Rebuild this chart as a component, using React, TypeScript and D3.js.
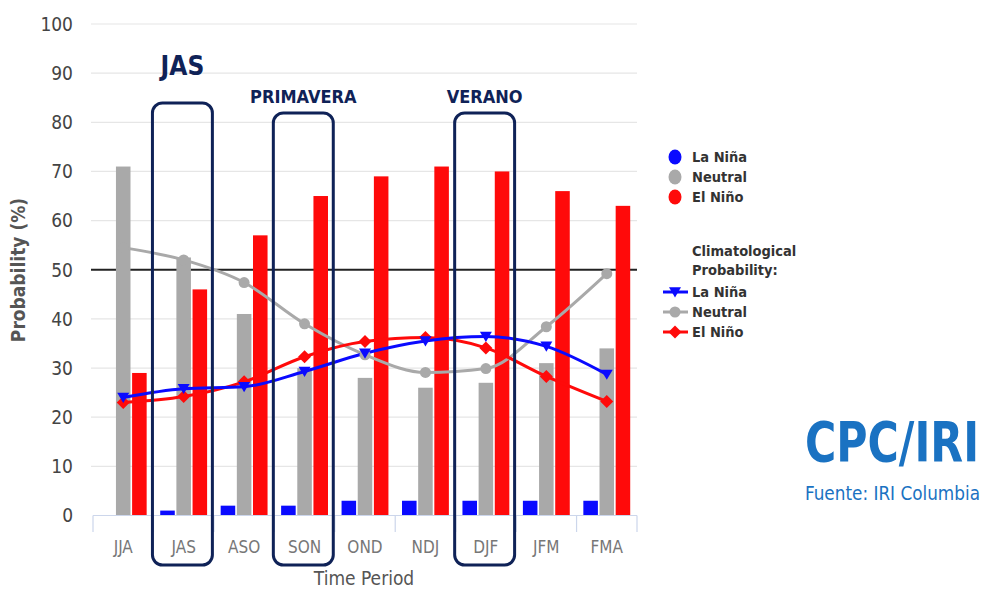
import React from "react";
import * as d3 from "d3";

const categories = ["JJA", "JAS", "ASO", "SON", "OND", "NDJ", "DJF", "JFM", "FMA"];
const laNina = [0, 1, 2, 2, 3, 3, 3, 3, 3];
const neutral = [71, 52.5, 41, 30, 28, 26, 27, 31, 34];
const elNino = [29, 46, 57, 65, 69, 71, 70, 66, 63];
const climLaNina = [24, 25.8, 26.2, 29.3, 33, 35.5, 36.4, 34.4, 28.7];
const climNeutral = [54.5, 52, 47.4, 39, 32.7, 29.1, 29.9, 38.4, 49.2];
const climElNino = [23, 24.2, 27.2, 32.3, 35.4, 36.2, 34.1, 28.3, 23.2];
const yTicks = [0, 10, 20, 30, 40, 50, 60, 70, 80, 90, 100];
const seriesNames = ["La Niña", "Neutral", "El Niño"];
const highlights = [
  { cat: "JAS", label: "JAS", big: true },
  { cat: "SON", label: "PRIMAVERA", big: false },
  { cat: "DJF", label: "VERANO", big: false },
];

const FONT = "'DejaVu Sans Condensed', 'Liberation Sans Narrow', 'DejaVu Sans', sans-serif";
const BLUE = "#0a0aff";
const GRAY = "#a9a9a9";
const RED = "#ff0a0a";
const NAVY = "#0f2257";
const LOGO = "#1a72c2";

const W = 985;
const H = 589;

export default function App() {
  const x = d3.scaleBand<string>().domain(categories).range([93, 637]);
  const sub = d3
    .scaleBand<string>()
    .domain(["lanina", "neutral", "elnino"])
    .range([0, x.bandwidth()])
    .paddingInner(0.1)
    .paddingOuter(0.42);
  const y = d3.scaleLinear().domain([0, 100]).range([515.5, 24]);
  const cx = (c: string) => (x(c) as number) + x.bandwidth() / 2;

  const line = d3
    .line<number>()
    .x((_, i) => cx(categories[i]))
    .y((d) => y(d))
    .curve(d3.curveMonotoneX);

  const barSeries = [
    { key: "lanina", vals: laNina, color: BLUE },
    { key: "neutral", vals: neutral, color: GRAY },
    { key: "elnino", vals: elNino, color: RED },
  ];

  const tri = (px: number, py: number, s = 6) =>
    `M${px - s},${py - s * 0.8}L${px + s},${py - s * 0.8}L${px},${py + s * 0.9}Z`;
  const dia = (px: number, py: number, s = 6.5) =>
    `M${px},${py - s}L${px + s},${py}L${px},${py + s}L${px - s},${py}Z`;

  const boundaries = categories.map((c) => x(c) as number).concat([637]);

  return (
    <svg
      width={W}
      height={H}
      style={{ position: "absolute", left: 0, top: 0, background: "#fff" }}
      fontFamily={FONT}
    >
      {/* gridlines */}
      {yTicks
        .filter((t) => t !== 0 && t !== 50)
        .map((t) => (
          <line key={t} x1={91} x2={637} y1={y(t)} y2={y(t)} stroke="#e6e6e6" strokeWidth={1.2} />
        ))}
      <line x1={91} x2={637} y1={y(50)} y2={y(50)} stroke="#222" strokeWidth={1.8} />

      {/* y labels */}
      {yTicks.map((t) => (
        <text key={t} x={73} y={y(t)} dy="0.36em" textAnchor="end" fontSize={19} fill="#444">
          {t}
        </text>
      ))}
      <text
        transform={`translate(25,270) rotate(-90)`}
        textAnchor="middle"
        fontSize={19}
        fontWeight="bold"
        fill="#555"
      >
        Probability (%)
      </text>

      {/* bars */}
      {barSeries.map((s) =>
        s.vals.map((v, i) => {
          const c = categories[i];
          const bx = (x(c) as number) + (sub(s.key) as number);
          return (
            <rect
              key={s.key + c}
              x={bx}
              y={y(v)}
              width={sub.bandwidth()}
              height={y(0) - y(v)}
              fill={s.color}
            />
          );
        })
      )}

      {/* x axis */}
      <line x1={93} x2={637} y1={515.5} y2={515.5} stroke="#ccd6eb" strokeWidth={1.2} />
      {boundaries.map((b, i) => (
        <line key={i} x1={b} x2={b} y1={515.5} y2={532} stroke="#ccd6eb" strokeWidth={1.2} />
      ))}
      {categories.map((c) => (
        <text key={c} x={cx(c)} y={547} dy="0.36em" textAnchor="middle" fontSize={17} fill="#777">
          {c}
        </text>
      ))}
      <text x={364} y={578} dy="0.36em" textAnchor="middle" fontSize={19} fill="#555">
        Time Period
      </text>

      {/* climatological lines */}
      <path d={line(climNeutral) || ""} fill="none" stroke={GRAY} strokeWidth={3} />
      <path d={line(climElNino) || ""} fill="none" stroke={RED} strokeWidth={3} />
      <path d={line(climLaNina) || ""} fill="none" stroke={BLUE} strokeWidth={3} />
      {climNeutral.map((v, i) => (
        <circle key={"n" + i} cx={cx(categories[i])} cy={y(v)} r={5.5} fill={GRAY} />
      ))}
      {climElNino.map((v, i) => (
        <path key={"e" + i} d={dia(cx(categories[i]), y(v))} fill={RED} />
      ))}
      {climLaNina.map((v, i) => (
        <path key={"l" + i} d={tri(cx(categories[i]), y(v))} fill={BLUE} />
      ))}

      {/* highlight boxes */}
      {highlights.map((h) => {
        const left = (x(h.cat) as number) - 1;
        const right = left + x.bandwidth() - 0.5;
        const top = h.big ? 103 : 113;
        return (
          <g key={h.cat}>
            <rect
              x={left}
              y={top}
              width={right - left}
              height={565 - top}
              rx={10}
              fill="none"
              stroke={NAVY}
              strokeWidth={3}
            />
            <text
              x={(left + right) / 2}
              y={h.big ? 75 : 103}
              textAnchor="middle"
              fontSize={h.big ? 26 : 18}
              fontWeight="bold"
              fill={NAVY}
            >
              {h.label}
            </text>
          </g>
        );
      })}

      {/* legend */}
      {[BLUE, GRAY, RED].map((col, i) => (
        <g key={"lg" + i}>
          <ellipse cx={675} cy={157 + i * 20} rx={6.5} ry={7.5} fill={col} />
          <text x={692} y={157 + i * 20} dy="0.36em" fontSize={14.5} fontWeight="bold" fill="#333">
            {seriesNames[i]}
          </text>
        </g>
      ))}
      <text x={692} y={251} dy="0.36em" fontSize={14.5} fontWeight="bold" fill="#333">
        Climatological
      </text>
      <text x={692} y={270} dy="0.36em" fontSize={14.5} fontWeight="bold" fill="#333">
        Probability:
      </text>
      {[BLUE, GRAY, RED].map((col, i) => {
        const ly = 292 + i * 20;
        return (
          <g key={"ll" + i}>
            <line x1={663} x2={688} y1={ly} y2={ly} stroke={col} strokeWidth={3} />
            {i === 0 && <path d={tri(675, ly)} fill={col} />}
            {i === 1 && <circle cx={675} cy={ly} r={5.5} fill={col} />}
            {i === 2 && <path d={dia(675, ly)} fill={col} />}
            <text x={692} y={ly} dy="0.36em" fontSize={14.5} fontWeight="bold" fill="#333">
              {seriesNames[i]}
            </text>
          </g>
        );
      })}

      {/* logo */}
      <g transform="translate(805,461) scale(1,1.18)">
        <text
          x={0}
          y={0}
          fontSize={46}
          fontWeight="bold"
          fill={LOGO}
          textLength={174}
          lengthAdjust="spacingAndGlyphs"
        >
          CPC/IRI
        </text>
      </g>
      <text
        x={805}
        y={500}
        fontSize={19}
        fill={LOGO}
        textLength={175}
        lengthAdjust="spacingAndGlyphs"
      >
        Fuente: IRI Columbia
      </text>
    </svg>
  );
}
